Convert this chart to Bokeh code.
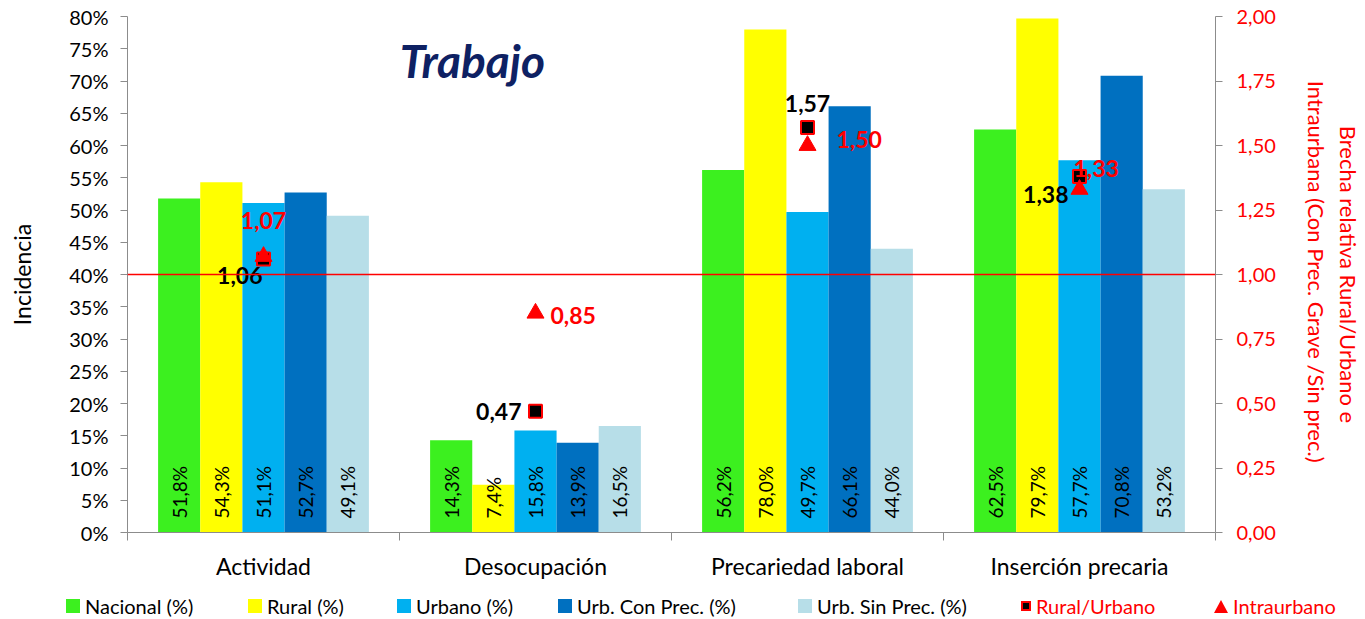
import math
from bokeh.plotting import figure
from bokeh.layouts import column
from bokeh.models import (Range1d, LinearAxis, FixedTicker, CustomJSTickFormatter,
                          Span, Label, Div)
from bokeh.core.properties import value
from bokeh.embed import file_html
from bokeh.resources import INLINE

# ---------------- data ----------------
categories = ["Actividad", "Desocupación", "Precariedad laboral", "Inserción precaria"]
series_names = ["Nacional (%)", "Rural (%)", "Urbano (%)", "Urb. Con Prec. (%)", "Urb. Sin Prec. (%)"]
nacional = [51.8, 14.3, 56.2, 62.5]
rural = [54.3, 7.4, 78.0, 79.7]
urbano = [51.1, 15.8, 49.7, 57.7]
urb_con_prec = [52.7, 13.9, 66.1, 70.8]
urb_sin_prec = [49.1, 16.5, 44.0, 53.2]
ratio_names = ["Rural/Urbano", "Intraurbano"]
brecha_rural_urbano = [1.06, 0.47, 1.57, 1.38]
brecha_intraurbana = [1.07, 0.85, 1.50, 1.33]
left_ticks = [0, 5, 10, 15, 20, 25, 30, 35, 40, 45, 50, 55, 60, 65, 70, 75, 80]
right_ticks = [0.0, 0.25, 0.5, 0.75, 1.0, 1.25, 1.5, 1.75, 2.0]
reference_level = 1.0

# ---------------- style ----------------
FONT = "Lato"
COLORS = ["#3CF01F", "#FFFF00", "#00B0F0", "#0070C0", "#B7DEE8"]
RED = "#FF0000"
AXIS_GRAY = "#8C8C8C"
BW = 0.155
W = 1360

p = figure(frame_width=1088, frame_height=516, x_range=Range1d(0.5, 4.5), y_range=Range1d(0, 80),
           output_backend="svg", toolbar_location=None, tools="",
           min_border_left=127, min_border_right=0, min_border_top=16, min_border_bottom=46)
p.outline_line_color = None
p.xgrid.visible = False
p.ygrid.visible = False
p.extra_y_ranges = {"right": Range1d(0, 2)}

# x axis
xa = p.xaxis[0]
xa.ticker = FixedTicker(ticks=[i + 1 for i in range(len(categories))],
                        minor_ticks=[i + 0.5 for i in range(len(categories) + 1)])
xa.formatter = CustomJSTickFormatter(args=dict(cats=categories),
                                     code="const i = Math.round(tick) - 1; return (i >= 0 && i < cats.length) ? cats[i] : '';")
xa.major_tick_out = 0
xa.major_tick_in = 0
xa.minor_tick_out = 8
xa.minor_tick_in = 0
xa.minor_tick_line_color = AXIS_GRAY
xa.axis_line_color = AXIS_GRAY
xa.major_label_standoff = 11
xa.major_label_text_font = FONT
xa.major_label_text_font_size = "23px"
xa.major_label_text_color = "black"

# left axis
ya = p.yaxis[0]
ya.ticker = FixedTicker(ticks=left_ticks)
ya.formatter = CustomJSTickFormatter(code="return tick.toFixed(0) + '%';")
ya.major_tick_out = 7
ya.major_tick_in = 0
ya.minor_tick_line_color = None
ya.axis_line_color = AXIS_GRAY
ya.major_tick_line_color = AXIS_GRAY
ya.major_label_standoff = 12
ya.major_label_text_font = FONT
ya.major_label_text_font_size = "20px"
ya.major_label_text_color = "black"
ya.axis_label = "Incidencia"
ya.axis_label_standoff = 30
ya.axis_label_text_font = FONT
ya.axis_label_text_font_style = "normal"
ya.axis_label_text_font_size = "23px"
ya.axis_label_text_color = "black"

# right axis
ra = LinearAxis(y_range_name="right")
ra.ticker = FixedTicker(ticks=right_ticks)
ra.formatter = CustomJSTickFormatter(code="return tick.toFixed(2).replace('.', ',');")
ra.major_tick_out = 7
ra.major_tick_in = 0
ra.minor_tick_line_color = None
ra.axis_line_color = AXIS_GRAY
ra.major_tick_line_color = AXIS_GRAY
ra.major_label_standoff = 14
ra.major_label_text_font = FONT
ra.major_label_text_font_size = "20px"
ra.major_label_text_color = RED
ra.axis_label = "Brecha relativa Rural/Urbano e\nIntraurbana  (Con Prec. Grave /Sin prec.)"
ra.axis_label_standoff = 24
ra.axis_label_text_font = FONT
ra.axis_label_text_font_style = "normal"
ra.axis_label_text_font_size = "22px"
ra.axis_label_text_color = RED
p.add_layout(ra, "right")

# bars
cat_x = [i + 1 for i in range(len(categories))]
all_series = [nacional, rural, urbano, urb_con_prec, urb_sin_prec]
for k, vals in enumerate(all_series):
    xs = [c + (k - 2) * BW for c in cat_x]
    p.vbar(x=xs, top=vals, width=BW, fill_color=COLORS[k], line_color=None)
    p.text(x=xs, y=[0] * len(vals), text=[f"{v:.1f}%".replace(".", ",") for v in vals],
           angle=math.pi / 2, text_align="left", text_baseline="middle", y_offset=-14,
           text_font=value(FONT), text_font_size="19px", text_color="black")

# reference line
p.add_layout(Span(location=reference_level, dimension="width", y_range_name="right",
                  line_color=RED, line_width=1.5))

# markers
p.scatter(x=cat_x, y=brecha_rural_urbano, y_range_name="right", marker="square", size=13,
          fill_color="black", line_color=RED, line_width=2)
p.scatter(x=cat_x, y=brecha_intraurbana, y_range_name="right", marker="triangle", size=17,
          fill_color=RED, line_color=RED)

sq_dx = [-1, -14, 0, -11]
sq_dy = [16, 0, -24, 18]
sq_align = ["right", "right", "center", "right"]
tr_dx = [0, 15, 29, -6]
tr_dy = [-36, 2, -6, -21]
tr_align = ["center", "left", "left", "left"]
for i in range(len(categories)):
    p.text(x=[cat_x[i]], y=[brecha_rural_urbano[i]], y_range_name="right",
           text=[f"{brecha_rural_urbano[i]:.2f}".replace(".", ",")],
           x_offset=sq_dx[i], y_offset=sq_dy[i], text_align=sq_align[i], text_baseline="middle",
           text_font=value(FONT), text_font_style="bold", text_font_size="23px", text_color="black")
    p.text(x=[cat_x[i]], y=[brecha_intraurbana[i]], y_range_name="right",
           text=[f"{brecha_intraurbana[i]:.2f}".replace(".", ",")],
           x_offset=tr_dx[i], y_offset=tr_dy[i], text_align=tr_align[i], text_baseline="middle",
           text_font=value(FONT), text_font_style="bold", text_font_size="23px", text_color=RED)

# chart title
p.add_layout(Label(x=1.768, y=73.2, text="Trabajo", text_font=FONT, text_font_style="bold italic",
                   text_font_size="46px", text_color="#0E2163", text_align="center", text_baseline="middle"))

# ---------------- legend strip ----------------
legend_left = [66, 248, 397, 558, 798, 1021, 1214]
swatches = []
for c in COLORS:
    swatches.append(f'<span style="display:inline-block;width:14px;height:14px;background:{c};"></span>')
swatches.append(f'<span style="display:inline-block;width:10px;height:10px;background:#000;border:2px solid {RED};"></span>')
swatches.append(f'<span style="display:inline-block;width:0;height:0;border-left:7px solid transparent;'
                f'border-right:7px solid transparent;border-bottom:13px solid {RED};"></span>')
labels = series_names + ratio_names
label_colors = ["#000000"] * len(series_names) + [RED] * len(ratio_names)
items_html = ""
for x, sw, lab, col in zip(legend_left, swatches, labels, label_colors):
    items_html += (f'<div style="position:absolute;left:{x}px;top:13px;height:22px;display:flex;'
                   f'align-items:center;white-space:nowrap;">{sw}'
                   f'<span style="margin-left:5px;font-family:Lato;font-size:20px;color:{col};">{lab}</span></div>')
legend_div = Div(text=f'<div style="position:relative;width:{W}px;height:35px;">{items_html}</div>',
                 width=W, height=35, margin=0)

layout = column(p, legend_div, spacing=0)
open("out.html", "w").write(file_html(layout, INLINE))
